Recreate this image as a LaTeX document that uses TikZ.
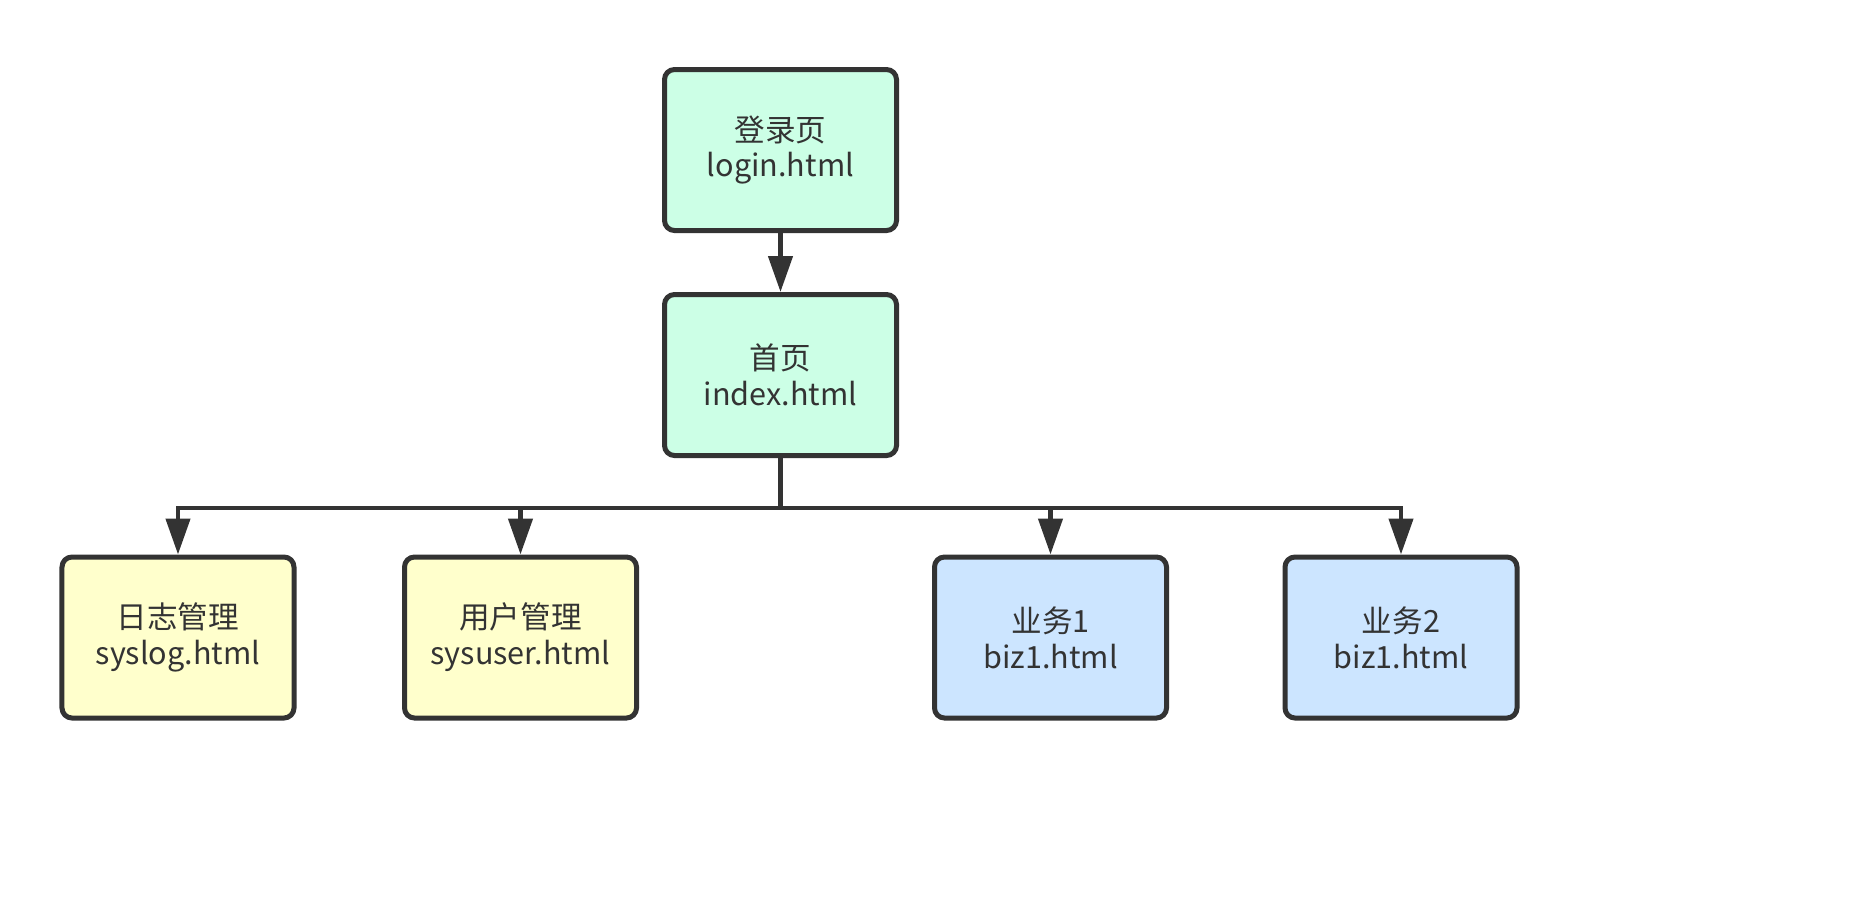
\documentclass[tikz,border=0pt]{standalone}
\usepackage{fontspec}
\setmainfont{Noto Sans CJK SC}
\usetikzlibrary{calc,arrows.meta,positioning}

\definecolor{linegray}{HTML}{333333}
\definecolor{greenfill}{HTML}{CCFFE6}
\definecolor{yellowfill}{HTML}{FFFFCC}
\definecolor{bluefill}{HTML}{CCE5FF}

\begin{document}
\begin{tikzpicture}[
    every node/.style={inner sep=0pt,text=linegray,align=center,
        font=\fontsize{8.7}{10.2}\selectfont}
    , page/.style={draw=linegray,line width=0.05cm,rounded corners=0.1cm,
        minimum width=2.32cm,minimum height=1.61cm}
    , link/.style={draw=linegray,line width=0.045cm,
        -{Triangle[length=3.6mm,width=2.4mm]}}
]
    \useasboundingbox (0,0) rectangle (18.55,-8.97);

    % Top pages.
    \node[page,fill=greenfill] (login) at (7.805,-1.50) {登录页\\login.html};
    \node[page,fill=greenfill] (index) at (7.805,-3.75) {首页\\index.html};
    \draw[link] (login.south) -- (index.north);

    % Child pages.
    \foreach \name/\x/\cl/\title/\file in {
        syslog/1.78/yellowfill/日志管理/syslog.html,
        sysuser/5.205/yellowfill/用户管理/sysuser.html,
        bizone/10.505/bluefill/业务1/biz1.html,
        biztwo/14.01/bluefill/业务2/biz1.html}
    {
        \node[page,fill=\cl] (\name) at (\x,-6.375) {\title\\\file};
    }

    \coordinate (bus) at ($(index.south)+(0,-0.50)$);
    \draw[draw=linegray,line width=0.05cm] (index.south) -- (bus);
    \foreach \name in {syslog,sysuser,bizone,biztwo}
        \draw[link] (bus) -| (\name.north);

\end{tikzpicture}
\end{document}
